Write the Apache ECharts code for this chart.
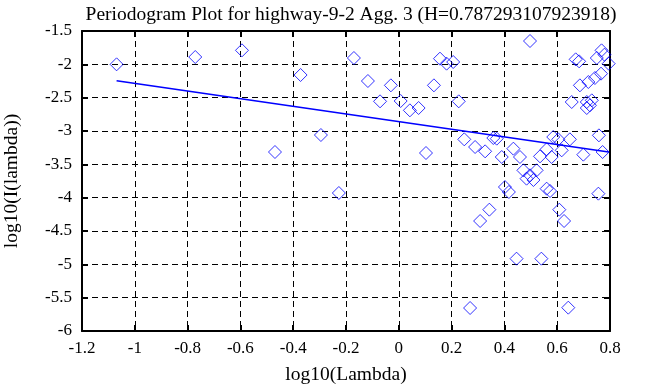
<!DOCTYPE html>
<html>
<head>
<meta charset="utf-8">
<script src="https://cdn.jsdelivr.net/npm/echarts@6/dist/echarts.min.js"></script>
<style>
html,body{margin:0;padding:0;background:#fff;}
#chart{width:658px;height:387px;}
</style>
</head>
<body>
<div id="chart"></div>
<script>
var titleText = 'Periodogram Plot for highway-9-2 Agg. 3 (H=0.787293107923918)';
var xName = 'log10(Lambda)';
var yName = 'log10(I(lambda))';

var logLambda = [-1.069,-0.771,-0.594,-0.469,-0.372,-0.295,-0.227,-0.170,-0.117,-0.071,
  -0.030,0.007,0.042,0.075,0.103,0.133,0.156,0.181,0.206,0.227,
  0.248,0.270,0.289,0.308,0.327,0.343,0.358,0.371,0.390,0.402,
  0.417,0.434,0.446,0.459,0.472,0.484,0.497,0.497,0.510,0.522,
  0.535,0.540,0.560,0.560,0.573,0.579,0.585,0.604,0.608,0.617,
  0.626,0.642,0.648,0.655,0.670,0.683,0.686,0.699,0.712,0.712,
  0.718,0.724,0.731,0.743,0.750,0.756,0.758,0.766,0.768,0.772,
  0.779,0.795];
var logI = [-2.00,-1.89,-1.79,-3.315,-2.16,-3.06,-3.93,-1.905,-2.25,-2.555,
  -2.315,-2.55,-2.69,-2.655,-3.33,-2.315,-1.915,-1.99,-1.965,-2.555,
  -3.125,-5.655,-3.24,-4.35,-3.305,-4.18,-3.105,-3.115,-3.39,-3.84,
  -3.915,-3.265,-4.915,-3.39,-3.59,-3.715,-1.65,-3.665,-3.735,-3.59,
  -3.38,-4.915,-3.275,-3.865,-3.90,-3.39,-3.09,-3.125,-4.18,-3.29,
  -4.35,-5.65,-3.125,-2.565,-1.925,-1.955,-2.315,-3.355,-2.565,-2.655,
  -2.265,-2.615,-2.54,-2.205,-1.905,-3.94,-3.065,-2.14,-1.79,-3.315,
  -1.855,-1.99];

var fitX = [-1.069, 0.795];
var fitY = [-2.246, -3.316];

var xTicks = {min: -1.2, max: 0.8, interval: 0.2};
var yTicks = {min: -6, max: -1.5, interval: 0.5};

var pts = logLambda.map(function(x, i){ return [x, logI[i]]; });
var fit = fitX.map(function(x, i){ return [x, fitY[i]]; });

var font = 'Liberation Serif';
var fs = 17;
var fsBig = 19.5;
var axisLine = {show: true, onZero: false, lineStyle: {color: '#000', width: 2}};
var tick = {show: true, inside: true, length: 6, lineStyle: {color: '#000', width: 2}};
var split = {show: true, lineStyle: {color: '#000', width: 1, type: [6, 4]}};
var lbl = {color: '#000', fontFamily: font, fontSize: fs};

var chart = echarts.init(document.getElementById('chart'), null, {renderer: 'canvas'});
chart.setOption({
  animation: false,
  backgroundColor: '#fff',
  title: {text: titleText, left: 346, top: 0, textAlign: 'center',
    textStyle: {fontFamily: font, fontSize: fsBig, fontWeight: 'normal', color: '#000'}},
  grid: {left: 82, right: 48, top: 31, bottom: 56, containLabel: false, outerBoundsMode: 'none'},
  xAxis: [
    {type: 'value', min: xTicks.min, max: xTicks.max, interval: xTicks.interval,
     name: xName, nameLocation: 'middle', nameGap: 34,
     nameTextStyle: {fontFamily: font, fontSize: fsBig, color: '#000'},
     axisLine: axisLine, axisTick: tick, splitLine: split,
     axisLabel: Object.assign({margin: 9}, lbl)},
    {type: 'value', position: 'top', min: xTicks.min, max: xTicks.max, interval: xTicks.interval,
     axisLine: axisLine, axisTick: tick, splitLine: {show: false}, axisLabel: {show: false}}
  ],
  yAxis: [
    {type: 'value', min: yTicks.min, max: yTicks.max, interval: yTicks.interval,
     name: yName, nameLocation: 'middle', nameGap: 60, nameRotate: 90,
     nameTextStyle: {fontFamily: font, fontSize: fsBig, color: '#000'},
     axisLine: axisLine, axisTick: tick, splitLine: split,
     axisLabel: Object.assign({margin: 10}, lbl)},
    {type: 'value', position: 'right', min: yTicks.min, max: yTicks.max, interval: yTicks.interval,
     axisLine: axisLine, axisTick: tick, splitLine: {show: false}, axisLabel: {show: false}}
  ],
  series: [
    {type: 'scatter', data: pts, symbol: 'diamond', symbolSize: 13,
     itemStyle: {color: 'rgba(0,0,0,0)', borderColor: '#0000ff', borderWidth: 1}, z: 3},
    {type: 'line', data: fit, showSymbol: false, symbol: 'none',
     lineStyle: {color: '#0000ff', width: 1.6}, z: 4}
  ]
});
</script>
</body>
</html>
